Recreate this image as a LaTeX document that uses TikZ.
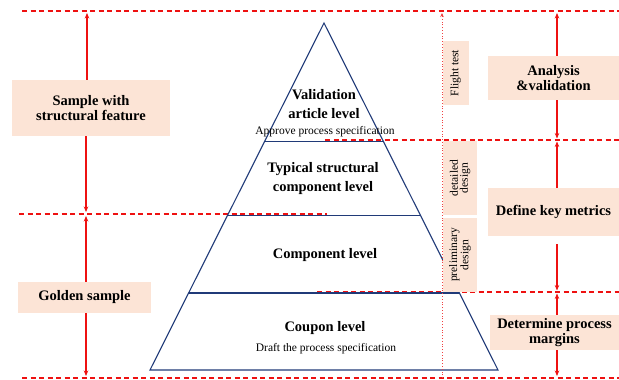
\documentclass[tikz,border=0pt]{standalone}
\usepackage{fontspec}
\setmainfont{Liberation Serif}
\usetikzlibrary{arrows.meta,calc}

\definecolor{peach}{HTML}{FCE4D6}
\definecolor{navy}{HTML}{203A78}
\definecolor{redline}{HTML}{EE1111}

\tikzset{
	lvl/.style={font=\bfseries\fontsize{14.5}{18.5}\selectfont, align=center, inner sep=0pt},
	note/.style={font=\fontsize{11.5}{13}\selectfont, inner sep=0pt},
	tag/.style={fill=peach, font=\bfseries\fontsize{14.5}{15.5}\selectfont, align=center, inner sep=0pt},
	phase/.style={fill=peach, font=\fontsize{11.5}{10}\selectfont, align=center, rotate=90, inner sep=0pt},
	sepline/.style={redline, dash pattern=on 5pt off 3.5pt, line width=1.1pt},
	span/.style={redline, line width=1.1pt, -{Stealth[length=5.5pt,width=4.5pt]}},
}

\begin{document}
\begin{tikzpicture}[x=1pt, y=-1pt]
	\useasboundingbox (0,0) rectangle (619,380);
	% guide lines
	\draw[sepline] (22,11) -- (619,11);
	\draw[sepline] (325,140) -- (619,140);
	\draw[sepline] (19,214) -- (327,214);
	\draw[sepline] (317,292) -- (619,292);
	\draw[sepline] (22,378) -- (619,378);
	% pyramid
	\coordinate (apex) at (324,23);
	\coordinate (bl) at (150,370);
	\coordinate (br) at (498,370);
	\draw[navy, line width=1.1pt] (apex) -- (bl) -- (br) -- cycle;
	\foreach \t in {0.3415,0.5548,0.7781}
		\draw[navy, line width=1.1pt] ($(apex)!\t!(bl)$) -- ($(apex)!\t!(br)$);
	\node[lvl] (valid) at (324,104) {Validation\\article level};
	\node[note] (approve) at (325,132) {Approve process specification};
	\node[lvl] (typical) at (323,178.5) {Typical structural\\component level};
	\node[lvl] (comp) at (325,255) {Component level};
	\node[lvl] (coupon) at (325,328) {Coupon level};
	\node[note] (draft) at (326,349) {Draft the process specification};
	% phases
	\coordinate (ftop) at (442,13);
	\coordinate (fbot) at (442,378);
	\draw[redline!80, dotted, line width=0.8pt, -{Stealth[length=4pt,width=3.5pt]}] (fbot) -- (ftop);
	\node[phase, minimum width=64pt, minimum height=26pt] (flight) at (455.5,73) {Flight test};
	\node[phase, minimum width=74pt, minimum height=34pt] (detail) at (460,178) {detailed\\design};
	\node[phase, minimum width=74pt, minimum height=34pt] (prelim) at (460,255) {preliminary\\design};
	% left tags
	\node[tag, minimum width=158pt, minimum height=56pt] (sample) at (91,108) {Sample with\\structural feature};
	\node[tag, minimum width=133pt, minimum height=31pt] (golden) at (84.5,297.5) {Golden sample};
	\coordinate (ls1) at (87,13);
	\coordinate (ls2) at (86,212);
	\coordinate (lg1) at (86,216);
	\coordinate (lg2) at (86,376);
	\draw[span] (sample.north -| ls1) -- (ls1);
	\draw[span] (sample.south -| ls2) -- (ls2);
	\draw[span] (golden.north -| lg1) -- (lg1);
	\draw[span] (golden.south -| lg2) -- (lg2);
	% right tags
	\node[tag, minimum width=131pt, minimum height=44pt] (analysis) at (553.5,78) {Analysis\\\&validation};
	\node[tag, minimum width=131pt, minimum height=48pt] (metrics) at (553.5,212) {Define key metrics};
	\node[tag, minimum width=129pt, minimum height=35pt] (margins) at (554.5,332.5) {Determine process\\margins};
	\coordinate (ra1) at (557,13);
	\coordinate (ra2) at (557,138.5);
	\coordinate (rd1) at (557,141.5);
	\coordinate (rd2) at (557,290.5);
	\coordinate (rm1) at (557,293.5);
	\coordinate (rm2) at (557,376);
	\draw[span] (analysis.north -| ra1) -- (ra1);
	\draw[span] (analysis.south -| ra2) -- (ra2);
	\draw[span] (metrics.north -| rd1) -- (rd1);
	\draw[span, shorten <=8pt] (metrics.south -| rd2) -- (rd2);
	\draw[span] (margins.north -| rm1) -- (rm1);
	\draw[span] (margins.south -| rm2) -- (rm2);
\end{tikzpicture}
\end{document}
